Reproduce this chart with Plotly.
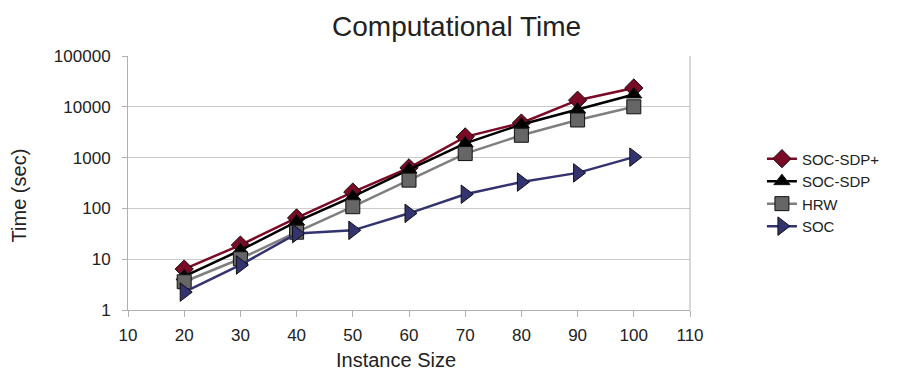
import plotly.graph_objects as go

sizes = [20, 30, 40, 50, 60, 70, 80, 90, 100]
soc_sdp_plus = [6.4, 19, 65, 210, 630, 2560, 4800, 13500, 23500]
soc_sdp = [4.6, 15, 55, 170, 580, 1900, 4500, 8800, 17500]
hrw = [3.6, 10.2, 34, 108, 360, 1200, 2750, 5500, 10000]
soc = [2.25, 7.7, 32, 37, 80, 190, 330, 500, 1020]

series = [
    ("SOC-SDP+", soc_sdp_plus, "#7a0a25", "diamond", "#7a0a25", 14),
    ("SOC-SDP", soc_sdp, "#000000", "triangle-up", "#000000", 14),
    ("HRW", hrw, "#7f7f7f", "square", "#666666", 14),
    ("SOC", soc, "#333370", "triangle-right", "#333370", 16),
]

fig = go.Figure()
for name, vals, lc, sym, mc, ms in series:
    fig.add_trace(go.Scatter(
        x=sizes, y=vals, name=name, mode="lines+markers",
        line=dict(color=lc, width=2.5),
        marker=dict(symbol=sym, size=ms, color=mc, line=dict(color="#111111", width=1)),
    ))

font = "Liberation Sans, Arial, sans-serif"
fig.update_layout(
    width=897, height=370,
    margin=dict(l=128, r=205, t=56, b=60),
    paper_bgcolor="white", plot_bgcolor="white",
    font=dict(family=font, size=17, color="#222222"),
    title=dict(text="Computational Time", x=0.509, xanchor="center", y=0.93, yanchor="middle",
               font=dict(size=28, color="#222222")),
    showlegend=True,
    legend=dict(x=1.128, xanchor="left", y=0.463, yanchor="middle",
                font=dict(size=15, color="#222222"), tracegroupgap=0,
                itemwidth=30, bgcolor="rgba(0,0,0,0)"),
    xaxis=dict(range=[10, 110], dtick=10, tick0=10, showgrid=False,
               showline=True, linecolor="#b0b0b0", linewidth=1, mirror=False,
               ticks="outside", ticklen=6, tickcolor="#b0b0b0", ticklabelstandoff=4,
               zeroline=False),
    yaxis=dict(type="log", range=[0, 5], dtick=1, tickformat="d",
               showgrid=True, gridcolor="#cccccc", gridwidth=1,
               showline=True, linecolor="#b0b0b0", linewidth=1,
               ticks="outside", ticklen=5, tickcolor="#b0b0b0", ticklabelstandoff=8,
               zeroline=False),
    annotations=[
        dict(text="Instance Size", xref="paper", yref="paper", x=(397 - 128) / 564, y=-(360 - 310) / 254,
             xanchor="center", yanchor="middle", showarrow=False, font=dict(size=20, color="#222222")),
        dict(text="Time (sec)", xref="paper", yref="paper", x=-(128 - 19) / 564, y=(310 - 195) / 254,
             xanchor="center", yanchor="middle", textangle=-90, showarrow=False,
             font=dict(size=20, color="#222222")),
    ],
)
# right border of plot area
fig.add_shape(type="line", xref="paper", yref="paper", x0=1, x1=1, y0=0, y1=1,
              line=dict(color="#b0b0b0", width=1))

fig.write_html("out.html")
